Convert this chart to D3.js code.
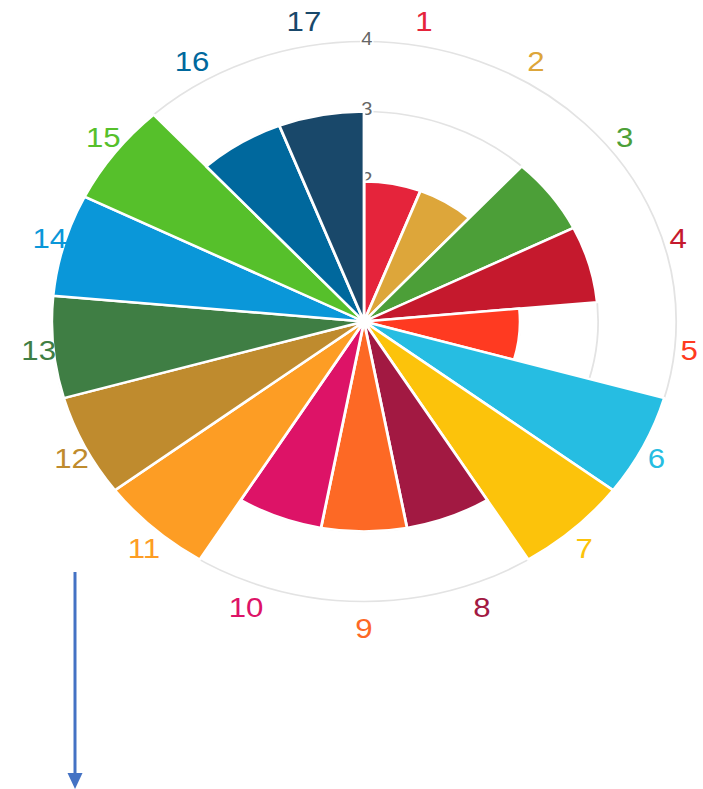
<!DOCTYPE html>
<html>
<head>
<meta charset="utf-8">
<script src="https://cdn.jsdelivr.net/npm/d3@7"></script>
<style>
  body { margin: 0; background: #fff; }
  svg { display: block; }
</style>
</head>
<body>
<svg></svg>
<script>
// SDG scores, one bar per goal
const goals = ["1","2","3","4","5","6","7","8","9","10","11","12","13","14","15","16","17"];
const scores = [2, 2, 3, 3, 2, 4, 4, 3, 3, 3, 4, 4, 4, 4, 4, 3, 3];
const goalColors = ["#E5243B","#DDA63A","#4C9F38","#C5192D","#FF3A21","#26BDE2","#FCC30B","#A21942",
                    "#FD6925","#DD1367","#FD9D24","#BF8B2E","#3F7E44","#0A97D9","#56C02B","#00689D","#19486A"];
const ringTicks = [1, 2, 3, 4];

var width = 703, height = 789;
var cx = 364, cy = 321.5, stretch = 1.115;   // chart in the picture is wider than tall

var svg = d3.select("svg")
    .attr("width", width)
    .attr("height", height);

var g = svg.append("g")
    .attr("transform", "translate(" + cx + "," + cy + ") scale(" + stretch + ",1)");

var r = d3.scaleLinear().domain([0, 4]).range([0, 280]);
var step = 2 * Math.PI / goals.length;

// grid rings
g.selectAll("circle.ring")
  .data(ringTicks)
  .enter().append("circle")
    .attr("class", "ring")
    .attr("r", d => r(d))
    .attr("fill", "none")
    .attr("stroke", "#e3e3e3")
    .attr("stroke-width", 1.6);

// tick labels on the rings (sit under the bars)
var ticks = g.selectAll("g.tick")
  .data(ringTicks)
  .enter().append("g")
    .attr("class", "tick")
    .attr("transform", d => "translate(2.5," + (-r(d) - 3) + ")");
ticks.append("rect")
    .attr("x", -6).attr("y", -10).attr("width", 12).attr("height", 19)
    .attr("fill", "#fff");
ticks.append("text")
    .attr("text-anchor", "middle")
    .attr("dy", "0.36em")
    .attr("font-family", "Liberation Sans, Arial, sans-serif")
    .attr("font-size", 18)
    .attr("fill", "#666")
    .text(d => d);

// bars
var arc = d3.arc()
    .innerRadius(0)
    .outerRadius(d => r(d.value))
    .startAngle(d => d.i * step)
    .endAngle(d => (d.i + 1) * step);

var rows = goals.map((name, i) => ({name: name, value: scores[i], color: goalColors[i], i: i}));

g.selectAll("path.bar")
  .data(rows)
  .enter().append("path")
    .attr("class", "bar")
    .attr("d", arc)
    .attr("fill", d => d.color)
    .attr("stroke", "#fff")
    .attr("stroke-width", 2.5)
    .attr("stroke-linejoin", "round");

// goal numbers round the outside
g.selectAll("text.goal")
  .data(rows)
  .enter().append("text")
    .attr("class", "goal")
    .attr("x", d => 293 * Math.sin((d.i + 0.5) * step))
    .attr("y", d => -306 * Math.cos((d.i + 0.5) * step))
    .attr("dy", "0.36em")
    .attr("text-anchor", "middle")
    .attr("font-family", "Liberation Sans, Arial, sans-serif")
    .attr("font-size", 28)
    .attr("fill", d => d.color)
    .text(d => d.name);

// blue arrow below the chart
svg.append("line")
    .attr("x1", 75).attr("y1", 572)
    .attr("x2", 75).attr("y2", 775)
    .attr("stroke", "#4472C4")
    .attr("stroke-width", 3);
svg.append("path")
    .attr("d", "M67.5,773 L82.5,773 L75,789 Z")
    .attr("fill", "#4472C4");
</script>
</body>
</html>
